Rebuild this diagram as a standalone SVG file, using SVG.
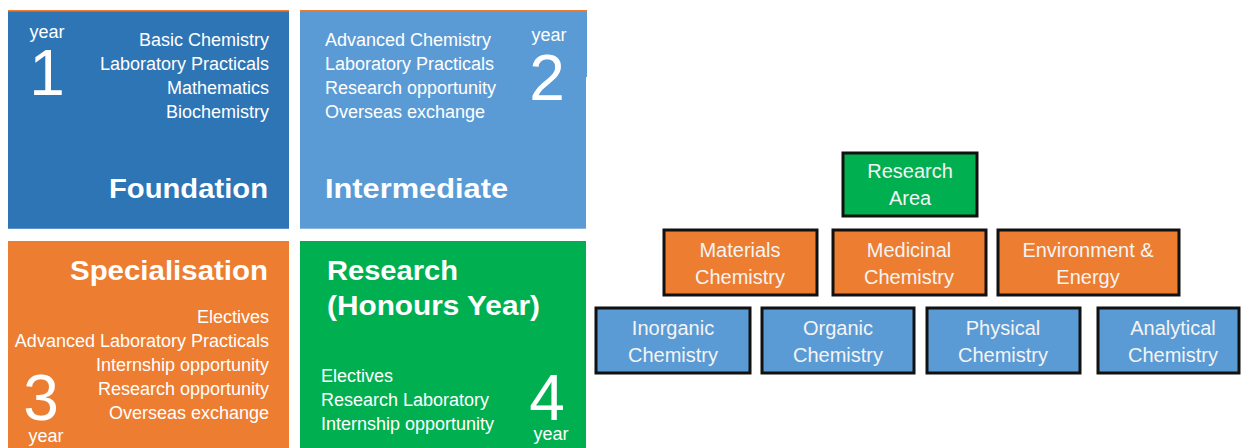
<svg xmlns="http://www.w3.org/2000/svg" width="1241" height="448" viewBox="0 0 1241 448">
<style>
.t{font-family:"Liberation Sans",Arial,sans-serif;fill:#fff}
.item{font-size:18px}
.yr{font-size:18px}
.num{font-size:64px}
.hd{font-size:28px;font-weight:bold}
.bx{stroke:#111;stroke-width:3}
.bl{font-family:"Liberation Sans",Arial,sans-serif;font-size:20px;fill:#f4f4f4;text-anchor:middle}
</style>
<rect width="1241" height="448" fill="#fff"/>
<g id="tile-foundation">
<rect x="8" y="10" width="281" height="219" fill="#2E75B6"/>
<rect x="8" y="10" width="281" height="1.5" fill="#ED7D31"/>
<rect x="8" y="228" width="281" height="1" fill="#5B93C8"/>
<text class="t yr" x="47" y="38" text-anchor="middle">year</text>
<text class="t num" x="47" y="95" text-anchor="middle">1</text>
<text class="t item" x="269" y="46" text-anchor="end">Basic Chemistry</text>
<text class="t item" x="269" y="70" text-anchor="end">Laboratory Practicals</text>
<text class="t item" x="269" y="94" text-anchor="end">Mathematics</text>
<text class="t item" x="269" y="118" text-anchor="end">Biochemistry</text>
<text class="t hd" x="268" y="198" text-anchor="end" textLength="159" lengthAdjust="spacingAndGlyphs">Foundation</text>
</g>
<g id="tile-intermediate">
<path d="M300 10H587V77H586V229H300Z" fill="#5B9BD5"/>
<rect x="300" y="10" width="287" height="1.5" fill="#ED7D31"/>
<rect x="300" y="228" width="286" height="1" fill="#8AB6E0"/>
<text class="t item" x="325" y="46">Advanced Chemistry</text>
<text class="t item" x="325" y="70">Laboratory Practicals</text>
<text class="t item" x="325" y="94">Research opportunity</text>
<text class="t item" x="325" y="118">Overseas exchange</text>
<text class="t yr" x="549" y="41" text-anchor="middle">year</text>
<text class="t num" x="547" y="100" text-anchor="middle" font-size="60">2</text>
<text class="t hd" x="325" y="198" textLength="183" lengthAdjust="spacingAndGlyphs">Intermediate</text>
</g>
<g id="tile-specialisation">
<rect x="8" y="241" width="281" height="207" fill="#ED7D31"/>
<text class="t hd" x="268" y="280" text-anchor="end" textLength="198" lengthAdjust="spacingAndGlyphs">Specialisation</text>
<text class="t item" x="269" y="323" text-anchor="end">Electives</text>
<text class="t item" x="269" y="347" text-anchor="end">Advanced Laboratory Practicals</text>
<text class="t item" x="269" y="371" text-anchor="end">Internship opportunity</text>
<text class="t item" x="269" y="395" text-anchor="end">Research opportunity</text>
<text class="t item" x="269" y="419" text-anchor="end">Overseas exchange</text>
<text class="t num" x="41" y="420" text-anchor="middle" font-size="59">3</text>
<text class="t yr" x="46" y="442" text-anchor="middle">year</text>
</g>
<g id="tile-research">
<rect x="300" y="241" width="286" height="207" fill="#00B050"/>
<text class="t hd" x="327" y="280" textLength="131" lengthAdjust="spacingAndGlyphs">Research</text>
<text class="t hd" x="327" y="315" textLength="213" lengthAdjust="spacingAndGlyphs">(Honours Year)</text>
<text class="t item" x="321" y="382">Electives</text>
<text class="t item" x="321" y="406">Research Laboratory</text>
<text class="t item" x="321" y="430">Internship opportunity</text>
<text class="t num" x="547" y="420" text-anchor="middle" font-size="59">4</text>
<text class="t yr" x="551" y="440" text-anchor="middle">year</text>
</g>
<g id="research-area">
<rect class="bx" x="843" y="153" width="134" height="63" fill="#00B050"/>
<text class="bl" x="910" y="178">Research</text>
<text class="bl" x="910" y="205">Area</text>
</g>
<g id="materials">
<rect class="bx" x="664" y="230" width="153" height="65" fill="#ED7D31"/>
<text class="bl" x="740" y="257">Materials</text>
<text class="bl" x="740" y="284">Chemistry</text>
</g>
<g id="medicinal">
<rect class="bx" x="833" y="230" width="153" height="65" fill="#ED7D31"/>
<text class="bl" x="909" y="257">Medicinal</text>
<text class="bl" x="909" y="284">Chemistry</text>
</g>
<g id="environment">
<rect class="bx" x="998" y="230" width="181" height="65" fill="#ED7D31"/>
<text class="bl" x="1088" y="257">Environment &amp;</text>
<text class="bl" x="1088" y="284">Energy</text>
</g>
<g id="inorganic">
<rect class="bx" x="596" y="308" width="154" height="65" fill="#5B9BD5"/>
<text class="bl" x="673" y="335">Inorganic</text>
<text class="bl" x="673" y="362">Chemistry</text>
</g>
<g id="organic">
<rect class="bx" x="762" y="308" width="152" height="65" fill="#5B9BD5"/>
<text class="bl" x="838" y="335">Organic</text>
<text class="bl" x="838" y="362">Chemistry</text>
</g>
<g id="physical">
<rect class="bx" x="927" y="308" width="153" height="65" fill="#5B9BD5"/>
<text class="bl" x="1003" y="335">Physical</text>
<text class="bl" x="1003" y="362">Chemistry</text>
</g>
<g id="analytical">
<rect class="bx" x="1098" y="308" width="141" height="65" fill="#5B9BD5"/>
<text class="bl" x="1173" y="335">Analytical</text>
<text class="bl" x="1173" y="362">Chemistry</text>
</g>
<g id="connectors"></g>
</svg>
